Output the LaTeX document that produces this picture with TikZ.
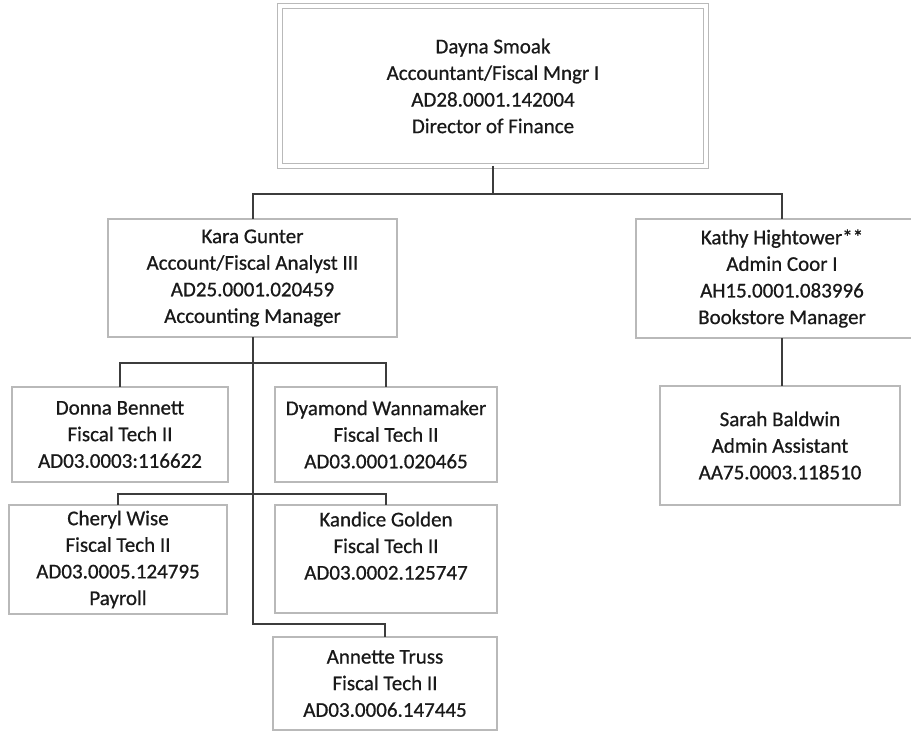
\documentclass[tikz,border=0pt]{standalone}
\usepackage{fontspec}
\setmainfont{Carlito}
\newfontfamily\boxfont[UprightFeatures={FakeBold=0.7}]{Carlito}
\definecolor{boxline}{RGB}{185,185,185}
\definecolor{connline}{RGB}{60,60,60}
\definecolor{txt}{RGB}{25,25,25}
\begin{document}
\begin{tikzpicture}[x=1pt,y=-1pt,
  box/.style={draw=boxline, line width=1.4pt, fill=white, inner sep=0pt, outer sep=0pt,
    align=center, text=txt, font=\boxfont\fontsize{21}{26.6}\selectfont},
  topbox/.style={box, double=white, double distance=3.6pt, line width=1.2pt},
  conn/.style={draw=connline, line width=2pt}]
\useasboundingbox (0,0) rectangle (911,733);
\clip (0,0) rectangle (911,733);
\fill[white] (0,0) rectangle (911,733);

\node[topbox, minimum width=426pt, minimum height=160pt] (top) at (493,86)
  {Dayna Smoak\\Accountant/Fiscal Mngr I\\AD28.0001.142004\\Director of Finance};
\node[box, minimum width=289pt, minimum height=118pt] (kara) at (252.5,278)
  {Kara Gunter\\Account/Fiscal Analyst III\\AD25.0001.020459\\Accounting Manager};
\node[box, minimum width=292pt, minimum height=119pt] (kathy) at (782,278.5)
  {Kathy Hightower**\\Admin Coor I\\AH15.0001.083996\\Bookstore Manager};
\node[box, minimum width=240pt, minimum height=119pt] (sarah) at (780,445.5)
  {Sarah Baldwin\\Admin Assistant\\AA75.0003.118510};
\node[box, minimum width=216pt, minimum height=95pt] (donna) at (120,434.5)
  {Donna Bennett\\Fiscal Tech II\\AD03.0003:116622};
\node[box, minimum width=222pt, minimum height=95pt] (dyamond) at (386,434.5)
  {Dyamond Wannamaker\\Fiscal Tech II\\AD03.0001.020465};
\node[box, minimum width=218pt, minimum height=109pt] (cheryl) at (118,559.5)
  {Cheryl Wise\\Fiscal Tech II\\AD03.0005.124795\\Payroll};
\node[box, minimum width=222pt, minimum height=108pt] (kandice) at (386,559)
  {Kandice Golden\\Fiscal Tech II\\AD03.0002.125747\\\mbox{}};
\node[box, minimum width=224pt, minimum height=93pt] (annette) at (385,683.5)
  {Annette Truss\\Fiscal Tech II\\AD03.0006.147445};

\coordinate (j1) at (493,194);
\coordinate (h1) at (252.5,363);
\coordinate (h2) at (252.5,494);
\coordinate (h3) at (252.5,624);

\draw[conn] (top.south) -- (j1) -| (kara.north);
\draw[conn] (j1) -| (kathy.north);
\draw[conn] (kathy.south) -- (kathy.south |- sarah.north);
\draw[conn] (kara.south) -- (h3) -| (annette.north);
\draw[conn] (donna.north) |- (h1) -| (dyamond.north);
\draw[conn] (cheryl.north) |- (h2) -| (kandice.north);
\end{tikzpicture}
\end{document}
